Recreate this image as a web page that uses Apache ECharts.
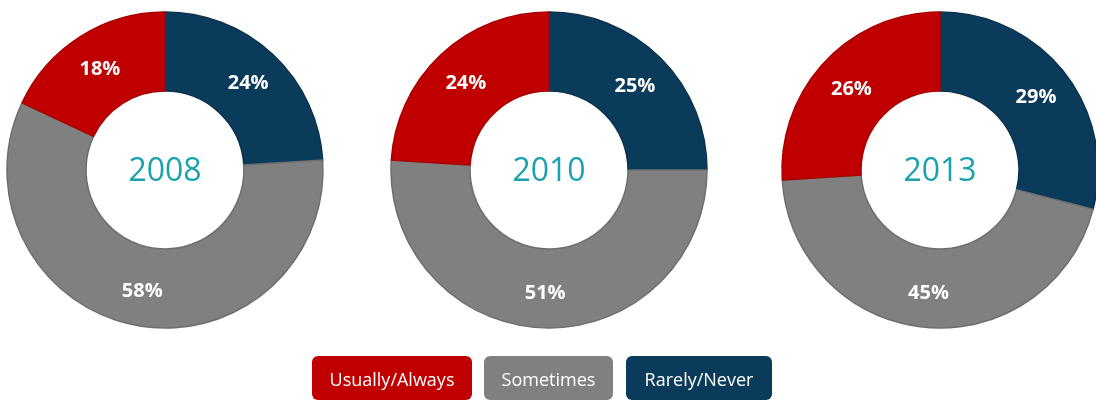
<!DOCTYPE html>
<html>
<head>
<meta charset="utf-8">
<script src="https://cdn.jsdelivr.net/npm/echarts@6/dist/echarts.min.js"></script>
<style>
  html, body { margin: 0; padding: 0; background: #ffffff; }
  #chart { width: 1096px; height: 400px; }
</style>
</head>
<body>
<div id="chart"></div>
<script>
// ---- data ----
var years = ['2008', '2010', '2013'];
var categories = ['Rarely/Never', 'Sometimes', 'Usually/Always'];
var rarelyNever   = [24, 25, 29];
var sometimes     = [58, 51, 45];
var usuallyAlways = [18, 24, 26];
var legendOrder = ['Usually/Always', 'Sometimes', 'Rarely/Never'];

// ---- styles ----
var colors = { 'Rarely/Never': '#0B3B5A', 'Sometimes': '#808080', 'Usually/Always': '#C00000' };
var borders = { 'Rarely/Never': '#0A3350', 'Sometimes': '#6E6E6E', 'Usually/Always': '#A80000' };
var centers = [[165, 170], [549, 170], [940, 170]];
var legendBoxes = [[312, 356, 160, 44], [484, 356, 129, 44], [626, 356, 146, 44]];

var chart = echarts.init(document.getElementById('chart'), null, { renderer: 'canvas' });

var series = years.map(function (y, i) {
  var vals = [rarelyNever[i], sometimes[i], usuallyAlways[i]];
  return {
    type: 'pie',
    name: y,
    center: centers[i],
    radius: [79, 158],
    startAngle: 90,
    clockwise: true,
    avoidLabelOverlap: false,
    silent: true,
    label: {
      show: true,
      position: 'inside',
      formatter: '{c}%',
      color: '#ffffff',
      fontFamily: 'Open Sans',
      fontWeight: 'bold',
      fontSize: 20,
      offset: [0, 2]
    },
    labelLine: { show: false },
    data: categories.map(function (c, k) {
      return {
        name: c,
        value: vals[k],
        itemStyle: { color: colors[c], borderColor: borders[c], borderWidth: 1.5 }
      };
    })
  };
});

var graphics = [];
years.forEach(function (y, i) {
  graphics.push({
    type: 'text',
    x: centers[i][0],
    y: centers[i][1] + 2,
    style: {
      text: y,
      fill: '#1AA3AE',
      font: '32px "Open Sans"',
      align: 'center',
      verticalAlign: 'middle'
    }
  });
});
legendOrder.forEach(function (name, i) {
  var b = legendBoxes[i];
  graphics.push({
    type: 'rect',
    shape: { x: b[0], y: b[1], width: b[2], height: b[3], r: 6 },
    style: { fill: colors[name] }
  });
  graphics.push({
    type: 'text',
    x: b[0] + b[2] / 2,
    y: b[1] + 25,
    style: {
      text: name,
      fill: '#ffffff',
      font: '18px "Open Sans"',
      align: 'center',
      verticalAlign: 'middle'
    }
  });
});

chart.setOption({
  animation: false,
  backgroundColor: '#ffffff',
  series: series,
  graphic: graphics
});
</script>
</body>
</html>
